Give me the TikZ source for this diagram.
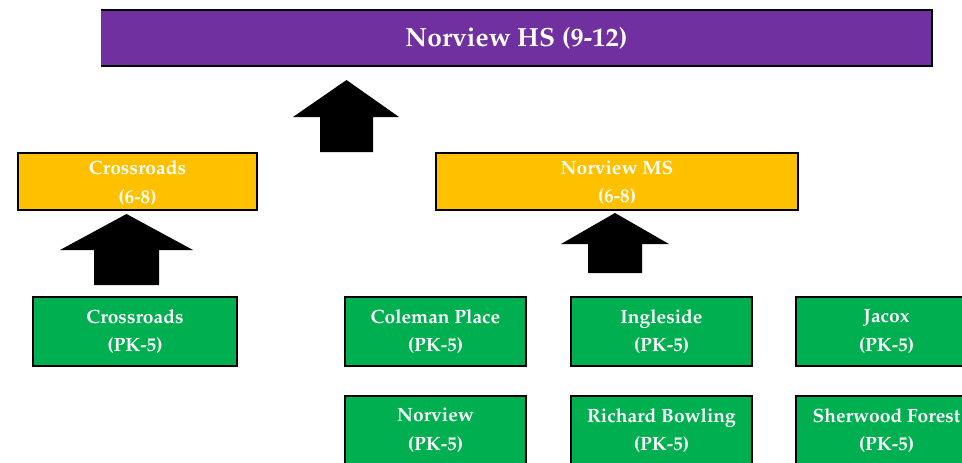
\documentclass[tikz,border=0pt]{standalone}
\usepackage[T1]{fontenc}
\renewcommand{\rmdefault}{ppl}
\definecolor{hspurple}{HTML}{7030A0}
\definecolor{msgold}{HTML}{FFC000}
\definecolor{esgreen}{HTML}{00B050}
\begin{document}
\begin{tikzpicture}[x=1pt,y=-1pt,
  lbl/.style={font=\fontsize{19.2}{28.5}\selectfont\bfseries, text=white, align=center, inner sep=0pt},
  hsbox/.style={fill=hspurple, minimum width=831pt, minimum height=56pt, inner sep=0pt, text=white,
    font=\fontsize{26.3}{30}\selectfont\bfseries},
  msbox/.style={lbl, fill=msgold, draw=black, line width=2.2pt, minimum height=57pt},
  esbox/.style={lbl, fill=esgreen, draw=black, line width=2.2pt, minimum width=181pt, minimum height=69pt},
  blockarrow/.style={fill=black, draw=none}]
\useasboundingbox (0,0) rectangle (962,463);
\clip (0,0) rectangle (962,463);
% high school
\node[hsbox] (hs) at (516.5,38) {Norview HS (9-12)};
\draw[line width=2.2pt] (hs.north west) -- (hs.north east) -- (hs.south east) -- (hs.south west);
% middle schools
\node[msbox, minimum width=239pt] (ms1) at (137.5,181.5) {};
\node[lbl] at ([yshift=-1.5pt]ms1.center) {Crossroads\\(6-8)};
\node[msbox, minimum width=362pt] (ms2) at (617,181.5) {};
\node[lbl] at ([yshift=-1.5pt]ms2.center) {Norview MS\\(6-8)};
% elementary schools
\node[esbox, minimum width=204pt] (es1) at (135,331.5) {Crossroads\\(PK-5)};
\node[esbox] (es2) at (435.5,331.5) {Coleman Place\\(PK-5)};
\node[esbox] (es3) at (661.5,331.5) {Ingleside\\(PK-5)};
\node[esbox] (es4) at (886.5,331.5) {Jacox\\(PK-5)};
\node[esbox] (es5) at (435.5,430.5) {Norview\\(PK-5)};
\node[esbox] (es6) at (661.5,430.5) {Richard Bowling\\(PK-5)};
\node[esbox] (es7) at (886.5,430.5) {Sherwood Forest\\(PK-5)};
% block arrows
\fill[blockarrow] (346.5,80) -- (399,117) -- (373,117) -- (373,152) -- (320,152) -- (320,117) -- (293,117) -- cycle;
\fill[blockarrow] (126.5,214) -- (193,250) -- (159,250) -- (159,285) -- (94,285) -- (94,250) -- (60,250) -- cycle;
\fill[blockarrow] (615,213) -- (669,244) -- (642,244) -- (642,273) -- (588,273) -- (588,244) -- (561,244) -- cycle;
\end{tikzpicture}
\end{document}
